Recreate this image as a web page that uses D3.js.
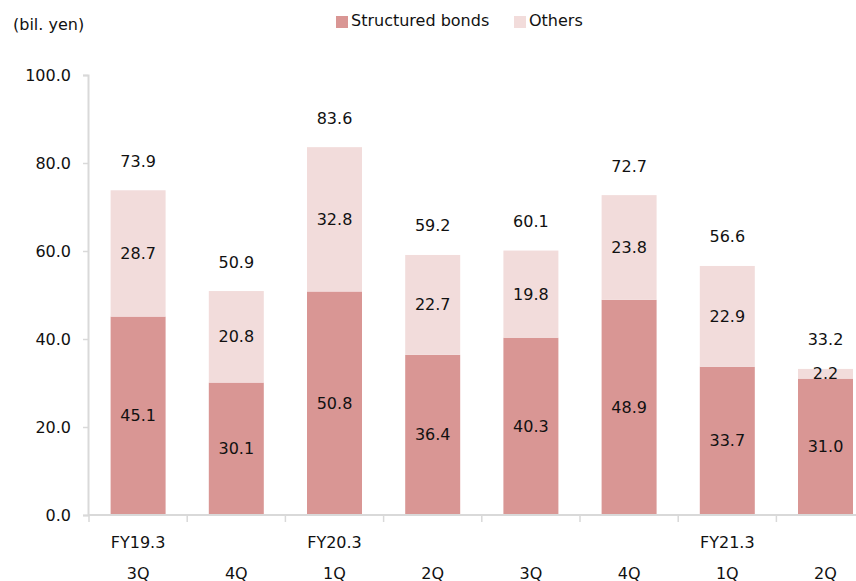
<!DOCTYPE html>
<html>
<head>
<meta charset="utf-8">
<script src="https://cdn.jsdelivr.net/npm/d3@7/dist/d3.min.js"></script>
<style>
  html, body { margin: 0; padding: 0; background: #fff; }
  svg { display: block; }
  text { font-family: "DejaVu Sans", Verdana, sans-serif; fill: #111; }
</style>
</head>
<body>
<svg id="chart" width="856" height="581"></svg>
<script>
// Quarterly balance (bil. yen)
const quarters = ["3Q", "4Q", "1Q", "2Q", "3Q", "4Q", "1Q", "2Q"];
const fiscalYears = ["FY19.3", "", "FY20.3", "", "", "", "FY21.3", ""];
const structuredBonds = [45.1, 30.1, 50.8, 36.4, 40.3, 48.9, 33.7, 31.0];
const others = [28.7, 20.8, 32.8, 22.7, 19.8, 23.8, 22.9, 2.2];
const totals = [73.9, 50.9, 83.6, 59.2, 60.1, 72.7, 56.6, 33.2];
const yTicks = [0, 20, 40, 60, 80, 100];
const seriesNames = ["Structured bonds", "Others"];
const seriesColors = ["#d99694", "#f2dcdb"];

const svg = d3.select("#chart");
const fontSize = 16;

const x = d3.scaleBand()
  .domain(d3.range(quarters.length))
  .range([89, 874.6])
  .paddingInner(0.44)
  .paddingOuter(0.22);

const y = d3.scaleLinear().domain([0, 100]).range([515, 75]);

const axisColor = "#d9d9d9";

// Y axis
const yAxis = svg.append("g")
  .attr("transform", `translate(88,0)`)
  .call(d3.axisLeft(y).tickValues(yTicks).tickFormat(d3.format(".1f")).tickSize(5).tickPadding(12));
yAxis.select(".domain").attr("stroke", axisColor).attr("stroke-width", 2);
yAxis.selectAll(".tick line").attr("stroke", axisColor).attr("stroke-width", 1.5);
yAxis.selectAll(".tick text")
  .attr("font-size", fontSize)
  .attr("font-family", "DejaVu Sans, Verdana, sans-serif")
  .attr("fill", "#111");

// Stacked data
const rows = quarters.map((q, i) => ({ i, structured: structuredBonds[i], others: others[i] }));
const stack = d3.stack().keys(["structured", "others"])(rows);

const layers = svg.append("g").selectAll("g")
  .data(stack)
  .join("g")
  .attr("fill", (d, k) => seriesColors[k]);

layers.selectAll("rect")
  .data(d => d)
  .join("rect")
  .attr("x", d => x(d.data.i))
  .attr("width", x.bandwidth())
  .attr("y", d => y(d[1]))
  .attr("height", d => y(d[0]) - y(d[1]));

// Segment labels
layers.selectAll("text")
  .data((d, k) => d.map(seg => ({ seg, k })))
  .join("text")
  .attr("x", d => x(d.seg.data.i) + x.bandwidth() / 2)
  .attr("y", d => (y(d.seg[0]) + y(d.seg[1])) / 2)
  .attr("text-anchor", "middle")
  .attr("dominant-baseline", "central")
  .attr("font-size", fontSize)
  .text(d => d3.format(".1f")(d.k === 0 ? structuredBonds[d.seg.data.i] : others[d.seg.data.i]));

// Total labels above bars
svg.append("g").selectAll("text")
  .data(totals)
  .join("text")
  .attr("x", (d, i) => x(i) + x.bandwidth() / 2)
  .attr("y", (d, i) => y(structuredBonds[i] + others[i]) - 29)
  .attr("text-anchor", "middle")
  .attr("dominant-baseline", "central")
  .attr("font-size", fontSize)
  .text(d => d3.format(".1f")(d));

// X axis baseline and category separators
const xAxis = svg.append("g");
xAxis.append("line")
  .attr("x1", 88).attr("x2", 856)
  .attr("y1", y(0)).attr("y2", y(0))
  .attr("stroke", axisColor).attr("stroke-width", 2);
const step = x.step();
const boundaries = d3.range(quarters.length).map(i => x(i) - x.paddingOuter() * step);
xAxis.selectAll("line.sep")
  .data(boundaries)
  .join("line")
  .attr("class", "sep")
  .attr("x1", d => d).attr("x2", d => d)
  .attr("y1", y(0)).attr("y2", y(0) + 7)
  .attr("stroke", axisColor).attr("stroke-width", 1.5);

xAxis.selectAll("text.fy")
  .data(fiscalYears)
  .join("text")
  .attr("class", "fy")
  .attr("x", (d, i) => x(i) + x.bandwidth() / 2)
  .attr("y", 542)
  .attr("text-anchor", "middle")
  .attr("dominant-baseline", "central")
  .attr("font-size", fontSize)
  .text(d => d);

xAxis.selectAll("text.q")
  .data(quarters)
  .join("text")
  .attr("class", "q")
  .attr("x", (d, i) => x(i) + x.bandwidth() / 2)
  .attr("y", 573)
  .attr("text-anchor", "middle")
  .attr("dominant-baseline", "central")
  .attr("font-size", fontSize)
  .text(d => d);

// Unit label
svg.append("text")
  .attr("x", 13)
  .attr("y", 24)
  .attr("dominant-baseline", "central")
  .attr("font-size", fontSize)
  .text("(bil. yen)");

// Legend
const legendX = [336, 514];
const legend = svg.append("g").selectAll("g")
  .data(seriesNames)
  .join("g")
  .attr("transform", (d, k) => `translate(${legendX[k]},16)`);
legend.append("rect")
  .attr("width", 12).attr("height", 12)
  .attr("fill", (d, k) => seriesColors[k]);
legend.append("text")
  .attr("x", 15)
  .attr("y", 4)
  .attr("dominant-baseline", "central")
  .attr("font-size", fontSize)
  .text(d => d);
</script>
</body>
</html>
